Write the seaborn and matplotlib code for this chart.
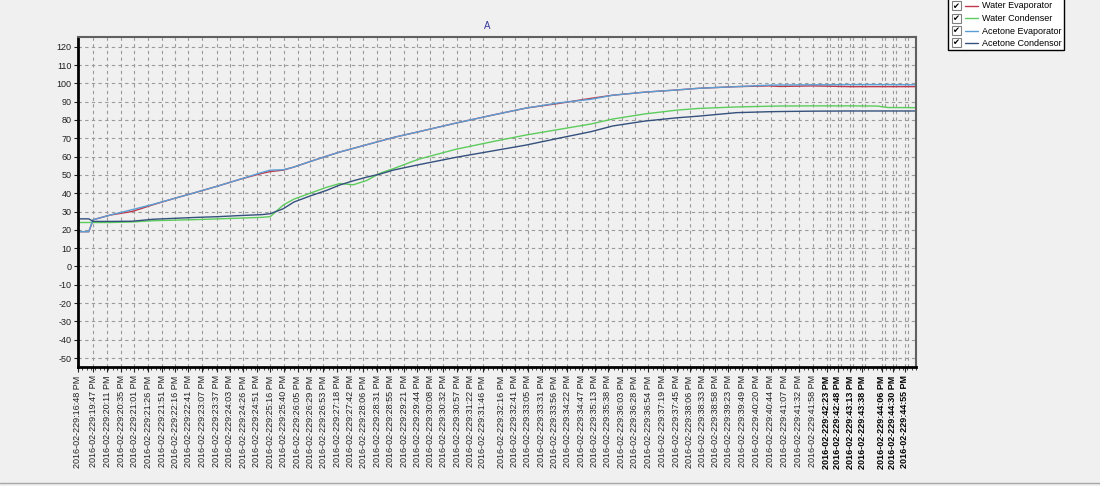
import numpy as np
import pandas as pd
import matplotlib
matplotlib.use('Agg')
import matplotlib.pyplot as plt
from matplotlib.lines import Line2D
from matplotlib.patches import Rectangle
from matplotlib.ticker import MultipleLocator
import seaborn as sns

# sample index of the logger (x axis)
sample = [0, 2, 20, 28, 60, 100, 140, 180, 220, 260, 300, 340, 356, 380, 400, 430,
          460, 485, 510, 535, 560, 585, 630, 700, 770, 830, 890, 950, 990, 1050,
          1110, 1150, 1220, 1280, 1300, 1360, 1430, 1480, 1500, 1552]

water_evap = [19, 19, 19, 25.5, 28.1, 30.0, 33.8, 37.3, 40.6, 44.0, 47.6, 50.8, 51.8,
              52.6, 54.3, 57.3, 60.2, 62.5, 64.5, 66.5, 68.5, 70.5, 73.5, 78.3, 82.8,
              86.5, 89.0, 91.8, 93.5, 95.2, 96.4, 97.3, 98.2, 98.6, 98.3, 98.6, 98.2,
              98.2, 98.2, 98.2]
water_cond = [24, 24, 24, 24, 24, 24.3, 25.0, 25.3, 25.6, 26.0, 26.4, 26.8, 27.2, 33.5,
              36.8, 40.0, 43.2, 45.3, 44.6, 47.0, 51.0, 53.5, 58.5, 64.0, 68.3, 71.8,
              74.8, 77.8, 80.5, 83.3, 85.4, 86.3, 87.1, 87.5, 87.6, 87.7, 87.7, 87.6,
              86.8, 86.7]
acetone_evap = [19, 19, 19, 25.5, 28.1, 31.0, 34.0, 37.3, 40.6, 44.0, 47.6, 51.3, 52.6,
                52.8, 54.3, 57.3, 60.2, 62.5, 64.5, 66.5, 68.5, 70.5, 73.5, 78.3, 82.8,
                86.5, 89.3, 91.3, 93.5, 95.2, 96.4, 97.3, 98.2, 99.0, 99.1, 99.2, 99.3,
                99.3, 99.3, 99.2]
acetone_cond = [19, 26, 26, 24.6, 24.6, 24.7, 25.8, 26.3, 26.8, 27.2, 27.8, 28.3, 28.8,
                31.5, 35.2, 38.5, 41.5, 44.5, 46.8, 48.8, 50.5, 52.7, 55.5, 59.6, 63.2,
                66.3, 70.0, 73.6, 76.7, 79.4, 81.2, 82.1, 84.0, 84.5, 84.6, 84.8, 84.9,
                84.9, 84.9, 84.9]

names = ['Water Evaporator', 'Water Condenser', 'Acetone Evaporator', 'Acetone Condensor']
colors = {'Water Evaporator': '#c03848', 'Water Condenser': '#5ccc5c',
          'Acetone Evaporator': '#5a9ed6', 'Acetone Condensor': '#34507c'}

# x tick labels (time of the sample) and where they sit
times = ['16:48', '19:47', '20:11', '20:35', '21:01', '21:26', '21:51', '22:16', '22:41',
         '23:07', '23:37', '24:03', '24:26', '24:51', '25:16', '25:40', '26:05', '26:29',
         '26:53', '27:18', '27:42', '28:06', '28:31', '28:55', '29:21', '29:44', '30:08',
         '30:32', '30:57', '31:22', '31:46', '32:16', '32:41', '33:05', '33:31', '33:56',
         '34:22', '34:47', '35:13', '35:38', '36:03', '36:28', '36:54', '37:19', '37:45',
         '38:06', '38:33', '38:58', '39:23', '39:49', '40:20', '40:44', '41:07', '41:32',
         '41:58', '42:23', '42:48', '43:13', '43:38', '44:06', '44:30', '44:55']
tick_pos = [0, 28, 54, 80, 104, 130, 156, 180, 204, 230, 257, 281, 306, 331, 356, 381,
            407, 430, 454, 480, 504, 528, 554, 578, 604, 628, 652, 676, 702, 726, 750,
            785, 809, 833, 859, 883, 906, 933, 957, 981, 1007, 1031, 1056, 1083, 1109,
            1133, 1157, 1180, 1204, 1230, 1257, 1283, 1309, 1335, 1361, 1387, 1407, 1430,
            1452, 1489, 1509, 1531]
labels = ['2016-02-229:' + t + ' PM' for t in times]

sns.set_theme(style='ticks')
plt.rcParams['font.family'] = ['Liberation Sans', 'DejaVu Sans']
plt.rcParams['axes.facecolor'] = '#f0f0f0'
plt.rcParams['axes.unicode_minus'] = False

W, H = 1100, 486
def fx(px):
    return px / W
def fy(py):
    return 1 - py / H

df = pd.DataFrame({'sample': sample, names[0]: water_evap, names[1]: water_cond,
                   names[2]: acetone_evap, names[3]: acetone_cond})
long = df.melt(id_vars='sample', var_name='series', value_name='temp')

fig = plt.figure(figsize=(11, 4.86), dpi=100, facecolor='#f0f0f0')
ax = fig.add_axes([fx(78), fy(367), (916 - 78) / W, (367 - 37) / H])
ax.set_facecolor('#f0f0f0')

sns.lineplot(data=long, x='sample', y='temp', hue='series', hue_order=names,
             palette=colors, estimator=None, sort=False, legend=False,
             linewidth=1.0, ax=ax)

ax.set_xticks(tick_pos)
ax.set_xticklabels(labels, rotation=90, fontsize=6.5, color='#202020')
# the last labels look heavier in the original (printed twice)
dup = 55
for lab in ax.get_xticklabels()[dup:]:
    lab.set_fontweight('bold')
    lab.set_color('#000000')
ax.xaxis.set_minor_locator(MultipleLocator(8))
ax.set_yticks(range(-50, 121, 10))
ax.tick_params(axis='y', labelsize=6.5, length=3, width=0.8, pad=1.5, colors='#202020')
ax.tick_params(axis='x', which='major', length=3.5, width=0.8, pad=2.5)
ax.tick_params(axis='x', which='minor', length=2, width=0.6)
ax.set_xlim(0, 1552)
ax.set_ylim(-54.9, 125.3)
ax.set_xlabel('')
ax.set_ylabel('')

ax.grid(True, which='major', color='#9a9a9a', linestyle=(0, (3, 3)), linewidth=0.8)
# doubled grid lines next to the last ticks
ax.vlines([p + 5.5 for p in tick_pos[dup:]], -54.9, 125.3, color='#9a9a9a',
          linestyle=(0, (3, 3)), linewidth=0.8, zorder=0.5)
for s in ['left', 'bottom']:
    ax.spines[s].set_color('black')
    ax.spines[s].set_linewidth(2)
for s in ['top', 'right']:
    ax.spines[s].set_color('#606060')
    ax.spines[s].set_linewidth(1.5)

fig.text(fx(487), fy(26), 'A', color='#3a3aa0', fontsize=7, ha='center', va='center')

# legend with check boxes
fig.add_artist(Rectangle((fx(948), fy(50)), 116 / W, 52 / H, transform=fig.transFigure,
                         facecolor='white', edgecolor='black', linewidth=1))
rows = [6, 18.5, 31, 43]
for name, ry in zip(names, rows):
    fig.add_artist(Rectangle((fx(951.5), fy(ry + 4.5)), 9 / W, 9 / H,
                             transform=fig.transFigure, facecolor='white',
                             edgecolor='#808080', linewidth=0.8))
    fig.text(fx(956), fy(ry), '\u2714', fontsize=6, ha='center', va='center',
             color='black', family=['DejaVu Sans'])
    fig.add_artist(Line2D([fx(965), fx(978)], [fy(ry), fy(ry)], color=colors[name],
                          linewidth=1, transform=fig.transFigure))
    fig.text(fx(982), fy(ry), name, fontsize=6.5, ha='left', va='center', color='black')

fig.add_artist(Line2D([0, 1], [fy(483), fy(483)], color='#a8a8a8', linewidth=1,
                      transform=fig.transFigure))

fig.savefig('out.png', dpi=100, facecolor=fig.get_facecolor())
